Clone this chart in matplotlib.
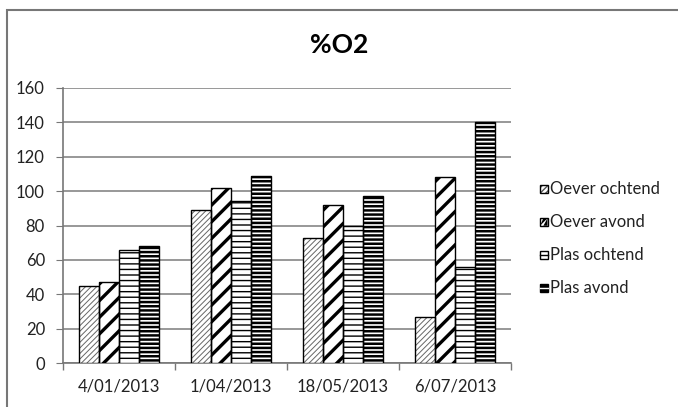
import matplotlib.pyplot as plt
import matplotlib.patches as mpatches
import numpy as np

dates = ["4/01/2013", "1/04/2013", "18/05/2013", "6/07/2013"]
oever_ochtend = [45, 89, 73, 27]
oever_avond = [47, 102, 92, 108]
plas_ochtend = [66, 94, 80, 56]
plas_avond = [68, 109, 97, 140]
labels = ["Oever ochtend", "Oever avond", "Plas ochtend", "Plas avond"]
values = [oever_ochtend, oever_avond, plas_ochtend, plas_avond]

# hatch, hatch colour, hatch linewidth
styles = [("//////", "#666666", 0.7),
          ("//", "black", 2.4),
          ("---", "black", 1.0),
          ("----", "black", 1.8)]

plt.rcParams['font.family'] = ['Lato', 'DejaVu Sans']

fig = plt.figure(figsize=(6.78, 4.07), dpi=100)
ax = fig.add_axes([63 / 678, 1 - 363 / 407, 448 / 678, 275 / 407])

x = np.arange(len(dates))
w = 0.18
for i, (vals, (hatch, hcol, hlw)) in enumerate(zip(values, styles)):
    plt.rcParams['hatch.linewidth'] = hlw
    pos = x + (i - 1.5) * w
    ax.bar(pos, vals, w, color="white", edgecolor=hcol, hatch=hatch, linewidth=0, zorder=3)
    ax.bar(pos, vals, w, fill=False, edgecolor="black", linewidth=1.0, zorder=4)

ax.set_ylim(0, 160)
ax.set_xlim(-0.5, 3.5)
ax.set_yticks(range(0, 161, 20))
ax.set_xticks(x)
ax.set_xticklabels(dates)
ax.set_xticks(np.arange(-0.5, 4, 1), minor=True)
ax.tick_params(axis="x", which="major", length=0, pad=11, labelsize=12, colors="#222222")
ax.tick_params(axis="x", which="minor", length=5, color="#777777", width=1)
ax.tick_params(axis="y", length=5, color="#777777", labelsize=12, pad=8, labelcolor="#222222")
ax.yaxis.grid(True, color="#868686", linewidth=1.2, zorder=0)
for s in ["top", "right"]:
    ax.spines[s].set_visible(False)
for s in ["left", "bottom"]:
    ax.spines[s].set_color("#777777")
    ax.spines[s].set_linewidth(1.2)

fig.text(0.5, 1 - 45 / 407, "%O2", ha="center", va="center", fontsize=19, fontweight="bold")

# legend drawn by hand in pixel coordinates
lg = fig.add_axes([0, 0, 1, 1], facecolor="none")
lg.set_xlim(0, 678)
lg.set_ylim(407, 0)
lg.axis("off")
leg_y = [189, 222, 255, 288]
s = 7.5
for i, (lab, yy) in enumerate(zip(labels, leg_y)):
    x0, y0 = 540, yy - s / 2
    if i == 0:
        plt.rcParams['hatch.linewidth'] = 1.0
        lg.add_patch(mpatches.Rectangle((x0, y0), s, s, facecolor="white", edgecolor="#555555", hatch="//////", linewidth=0))
    elif i == 1:
        lg.add_patch(mpatches.Polygon([(x0, y0 + s), (x0 + s, y0 + s), (x0 + s, y0), (x0 + s * 0.45, y0 + s)],
                                      closed=True, facecolor="black", edgecolor="none"))
        lg.add_patch(mpatches.Polygon([(x0, y0 + s), (x0 + s, y0), (x0 + s * 0.45, y0)], closed=True,
                                      facecolor="black", edgecolor="none"))
    elif i == 2:
        lg.plot([x0, x0 + s], [yy, yy], color="black", lw=1.0)
    else:
        lg.add_patch(mpatches.Rectangle((x0, y0), s, s, facecolor="black", edgecolor="none"))
        lg.plot([x0, x0 + s], [yy, yy], color="white", lw=1.0)
    lg.add_patch(mpatches.Rectangle((x0, y0), s, s, fill=False, edgecolor="black", linewidth=1.0))
    lg.text(550, yy, lab, ha="left", va="center", fontsize=12, color="#222222")

frame = mpatches.Rectangle((7 / 678, -0.1), 1.5, 1.1 - 10 / 407, transform=fig.transFigure,
                           fill=False, edgecolor="#777777", linewidth=1.5, clip_on=False)
fig.patches.append(frame)

fig.savefig("out.png", dpi=100)
